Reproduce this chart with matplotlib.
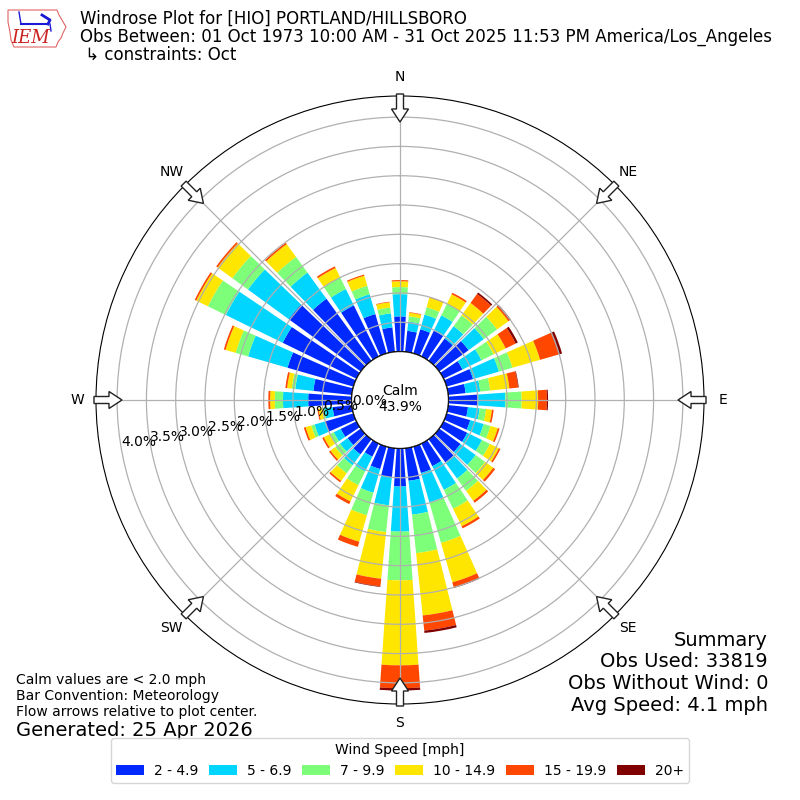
import matplotlib
matplotlib.use('Agg')
import matplotlib.pyplot as plt
import numpy as np
from matplotlib.patches import FancyArrow, Circle, Polygon, Patch

# direction bins (degrees, meteorological) and percent frequency per speed bin
directions = np.arange(0, 360, 10)
speed_labels = ['2 - 4.9', '5 - 6.9', '7 - 9.9', '10 - 14.9', '15 - 19.9', '20+']

spd_2_5 = [0.60, 0.36, 0.43, 0.49, 0.47, 0.62, 0.36, 0.47, 0.30, 0.51,
           0.34, 0.42, 0.45, 0.45, 0.49, 0.43, 0.47, 0.56, 0.65, 0.50,
           0.40, 0.25, 0.32, 0.28, 0.30, 0.51, 0.33, 0.74, 0.66, 1.17,
           1.40, 1.52, 1.31, 0.97, 0.70, 0.42]
spd_5_7 = [0.38, 0.16, 0.26, 0.29, 0.26, 0.32, 0.36, 0.46, 0.25, 0.46,
           0.20, 0.24, 0.28, 0.32, 0.34, 0.45, 0.52, 0.58, 0.77, 0.48,
           0.42, 0.28, 0.23, 0.16, 0.13, 0.18, 0.14, 0.43, 0.31, 0.70,
           1.08, 0.86, 0.55, 0.31, 0.35, 0.24]
spd_7_10 = [0.12, 0.09, 0.13, 0.22, 0.23, 0.28, 0.23, 0.24, 0.17, 0.28,
            0.11, 0.12, 0.15, 0.20, 0.26, 0.36, 0.72, 0.66, 0.83, 0.46,
            0.40, 0.26, 0.17, 0.10, 0.08, 0.06, 0.04, 0.14, 0.06, 0.22,
            0.34, 0.33, 0.33, 0.22, 0.15, 0.10]
spd_10_15 = [0.10, 0.06, 0.17, 0.18, 0.26, 0.24, 0.23, 0.49, 0.33, 0.28,
             0.10, 0.13, 0.17, 0.17, 0.21, 0.33, 0.70, 1.07, 1.45, 0.80,
             0.47, 0.31, 0.16, 0.10, 0.11, 0.10, 0.06, 0.08, 0.08, 0.18,
             0.22, 0.31, 0.27, 0.18, 0.18, 0.09]
spd_15_20 = [0.02, 0.01, 0.01, 0.03, 0.19, 0.03, 0.19, 0.33, 0.15, 0.15,
             0.03, 0.03, 0.03, 0.04, 0.04, 0.04, 0.09, 0.26, 0.39, 0.13,
             0.09, 0.05, 0.03, 0.03, 0.03, 0.03, 0.02, 0.03, 0.03, 0.03,
             0.03, 0.03, 0.03, 0.03, 0.02, 0.01]
spd_20 = [0.0, 0.0, 0.0, 0.0, 0.03, 0.02, 0.04, 0.06, 0.01, 0.02,
          0.0, 0.0, 0.0, 0.0, 0.0, 0.0, 0.01, 0.04, 0.04, 0.01,
          0.0, 0.0, 0.0, 0.0, 0.0, 0.0, 0.0, 0.0, 0.0, 0.0,
          0.0, 0.0, 0.0, 0.0, 0.0, 0.0]
speed_bins = [spd_2_5, spd_5_7, spd_7_10, spd_10_15, spd_15_20, spd_20]

calm_pct = 43.9
ring_ticks = np.arange(0, 4.01, 0.5)
compass = ['N', 'NE', 'E', 'SE', 'S', 'SW', 'W', 'NW']

colors = plt.cm.jet(np.arange(1, 7) / 6.0)

fig = plt.figure(figsize=(8, 8), dpi=100)
ax = fig.add_axes([0.12, 0.12, 0.76, 0.76], projection='polar')
ax.set_theta_zero_location('N')
ax.set_theta_direction(-1)
ax.set_rorigin(-0.826)
ax.set_ylim(0, 4.36)

theta = np.deg2rad(directions)
bottom = np.zeros(len(directions))
for vals, c in zip(speed_bins, colors):
    vals = np.array(vals)
    ax.bar(theta, vals, width=np.deg2rad(8), bottom=bottom, color=c,
           edgecolor='none', zorder=1)
    bottom += vals

ax.set_yticks(ring_ticks)
ax.set_yticklabels([])
ax.set_xticks(np.deg2rad(np.arange(0, 360, 45)))
ax.set_xticklabels(compass, fontsize=10)
ax.tick_params(axis='x', pad=3)
ax.grid(True, color='#b0b0b0', lw=0.9)
ax.spines['polar'].set_color('black')

# calm circle in the middle
ax.add_patch(Circle((0.5, 0.5), 48.4 / 608, transform=ax.transAxes,
                    fc='white', ec='black', lw=1.0, zorder=3))

for r in ring_ticks:
    ax.text(np.deg2rad(260), r, f'{r:.1f}%', ha='left', va='bottom',
            fontsize=10, zorder=10)

# overlay axes in pixel coordinates for text, arrows and logo
ov = fig.add_axes([0, 0, 1, 1])
ov.set_xlim(0, 800)
ov.set_ylim(800, 0)
ov.axis('off')
ov.set_zorder(5)

ov.text(400, 399, f'Calm\n{calm_pct}%', ha='center', va='center', fontsize=10)

for a in np.deg2rad(np.arange(0, 360, 45)):
    sx, sy = np.sin(a), -np.cos(a)
    ov.add_patch(FancyArrow(400 + 306 * sx, 400 + 306 * sy, -28 * sx, -28 * sy,
                            width=7, head_width=17, head_length=13,
                            length_includes_head=True, fc='white', ec='#222222',
                            lw=1.0, zorder=6))

# logo
iowa = [(8, 10), (57, 10), (59, 15), (62, 20), (66, 27), (63, 33), (61, 38),
        (58, 42), (56, 47), (14, 47), (11, 40), (10, 32), (8, 22)]
ov.add_patch(Polygon(iowa, closed=True, fc='white', ec='#e06666', lw=0.8))
ov.plot([21, 47], [24, 24], color='#1a1ad6', lw=1.5)
ov.plot([19, 21], [12, 24], color='#1a1ad6', lw=1.0)
ov.plot([42, 50, 48], [15, 20, 24], color='#1a1ad6', lw=2.0)
ov.plot([50, 51], [24, 31], color='#1a1ad6', lw=1.0)
ov.text(31, 38, 'IEM', ha='center', va='center', fontsize=13,
        family='DejaVu Serif', style='italic', color='#cc2222')

ov.text(80, 19, 'Windrose Plot for [HIO] PORTLAND/HILLSBORO',
        va='center', fontsize=12)
ov.text(80, 37, 'Obs Between: 01 Oct 1973 10:00 AM - 31 Oct 2025 11:53 PM America/Los_Angeles',
        va='center', fontsize=12)
ov.text(80, 55, ' \u21b3 constraints: Oct', va='center', fontsize=12)

ov.text(16, 680, 'Calm values are < 2.0 mph', va='center', fontsize=10)
ov.text(16, 696, 'Bar Convention: Meteorology', va='center', fontsize=10)
ov.text(16, 712, 'Flow arrows relative to plot center.', va='center', fontsize=10)
ov.text(16, 730, 'Generated: 25 Apr 2026', va='center', fontsize=14)

summary = ['Summary', 'Obs Used: 33819', 'Obs Without Wind: 0', 'Avg Speed: 4.1 mph']
for i, s in enumerate(summary):
    ov.text(768, 640 + i * 21.7, s, ha='right', va='center', fontsize=14)

handles = [Patch(facecolor=c) for c in colors]
fig.legend(handles, speed_labels, loc='lower center', bbox_to_anchor=(0.5, 0.013),
           ncol=6, title='Wind Speed [mph]', fontsize=10, title_fontsize=10,
           handletextpad=0.7, columnspacing=0.8, borderpad=0.35)

fig.savefig('out.png', dpi=100)
